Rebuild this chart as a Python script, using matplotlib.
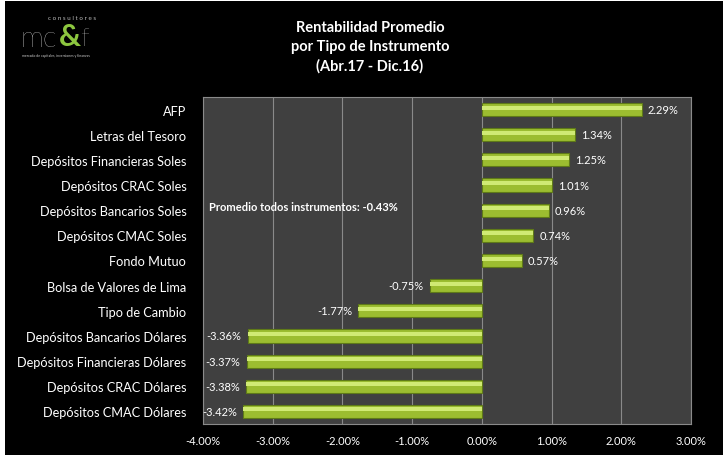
import matplotlib
matplotlib.use("Agg")
import matplotlib.pyplot as plt
from matplotlib.patches import Rectangle
from matplotlib.ticker import FuncFormatter, MultipleLocator

categories = [
    "AFP",
    "Letras del Tesoro",
    "Depósitos Financieras Soles",
    "Depósitos CRAC Soles",
    "Depósitos Bancarios Soles",
    "Depósitos CMAC Soles",
    "Fondo Mutuo",
    "Bolsa de Valores de Lima",
    "Tipo de Cambio",
    "Depósitos Bancarios Dólares",
    "Depósitos Financieras Dólares",
    "Depósitos CRAC Dólares",
    "Depósitos CMAC Dólares",
]
values = [2.29, 1.34, 1.25, 1.01, 0.96, 0.74, 0.57, -0.75, -1.77, -3.36, -3.37, -3.38, -3.42]
average = -0.43

plt.rcParams['font.family'] = ['Lato', 'DejaVu Sans']

fig = plt.figure(figsize=(7.23, 4.56), dpi=100, facecolor='black')
# thin white edge at top/left as in reference
fig.patches.append(Rectangle((0, 1 - 2/456), 1, 2/456, transform=fig.transFigure,
                             facecolor='white', edgecolor='none'))
fig.patches.append(Rectangle((0, 0), 5/723, 1, transform=fig.transFigure,
                             facecolor='white', edgecolor='none'))

ax = fig.add_axes([203/723, 1 - 425/456, (691 - 203)/723, (425 - 98)/456])
ax.set_zorder(2)
ax.set_facecolor('#404040')

y = list(range(len(categories)))
h = 0.52
ax.barh(y, values, height=h, color='#9cbd30', edgecolor='#5f7a18', linewidth=0.8, zorder=3)
# highlight stripe for glossy effect
ax.barh([v - h*0.15 for v in y], values, height=h*0.3, color='#d0ea74', edgecolor='none', zorder=4)

for yi, v in zip(y, values):
    if v >= 0:
        ax.text(v + 0.09, yi, f"{v:.2f}%", color='white', fontsize=8, va='center', ha='left', zorder=5)
    else:
        ax.text(v - 0.09, yi, f"{v:.2f}%", color='white', fontsize=8, va='center', ha='right', zorder=5)

ax.set_xlim(-4, 3)
ax.set_ylim(len(categories) - 0.5, -0.5)
ax.xaxis.set_major_locator(MultipleLocator(1))
ax.xaxis.set_major_formatter(FuncFormatter(lambda x, p: f"{x:.2f}%"))
ax.grid(axis='x', color='#8a8a8a', linewidth=0.8, zorder=1)
ax.set_axisbelow(True)
ax.set_yticks(y)
ax.set_yticklabels(categories)
ax.tick_params(axis='both', length=0, colors='white')
ax.tick_params(axis='y', labelsize=9.2, pad=12)
ax.tick_params(axis='x', labelsize=8, pad=8)
for s in ax.spines.values():
    s.set_color('#8a8a8a')
    s.set_linewidth(0.8)

ax.text(0.012, 0.665, f"Promedio todos instrumentos: {average:.2f}%", transform=ax.transAxes,
        color='white', fontsize=8, fontweight='bold', va='center', ha='left', zorder=5)

fig.text(370/723, 1 - 47/456, "Rentabilidad Promedio\npor Tipo de Instrumento\n(Abr.17 - Dic.16)",
         color='white', fontsize=10.5, fontweight='bold', ha='center', va='center', linespacing=1.45)

# logo
fig.text(48/723, 1 - 19/456, "c o n s u l t o r e s", color='#bbbbbb', fontsize=4.5, ha='left', va='center')
fig.text(20/723, 1 - 39/456, "mc", color='white', fontsize=21, ha='left', va='center', fontweight='light')
fig.text(59/723, 1 - 37/456, "&", color='#8cc63f', fontsize=22, ha='left', va='center', fontweight='bold')
fig.text(80/723, 1 - 39/456, "f", color='white', fontsize=19, ha='left', va='center', fontweight='light')
fig.text(22/723, 1 - 56/456, "mercado de capitales, inversiones y finanzas", color='#cccccc', fontsize=2.5,
         ha='left', va='center')

fig.savefig("out.png", dpi=100, facecolor=fig.get_facecolor())
